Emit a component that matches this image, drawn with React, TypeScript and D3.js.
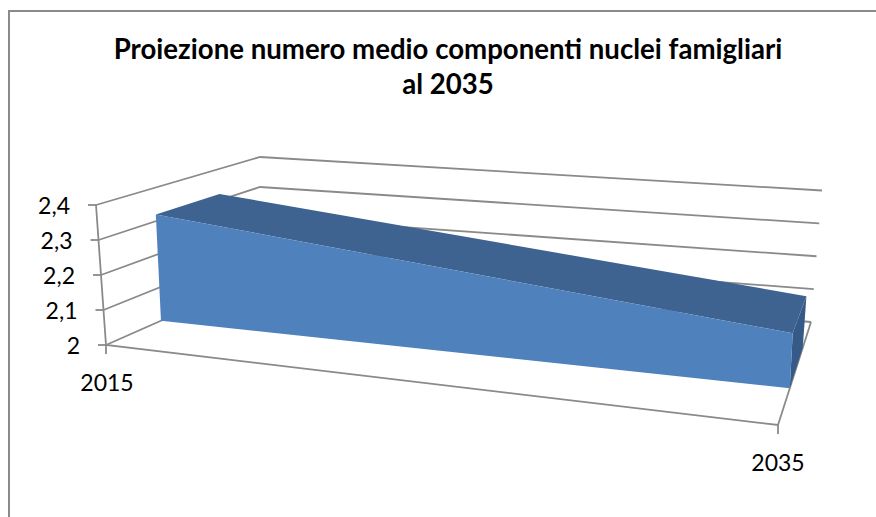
import React from "react";
import * as d3 from "d3";

const titleLines = ["Proiezione numero medio componenti nuclei famigliari", "al 2035"];
const categories = ["2015", "2035"];
const values = [2.32, 2.15];
const valueTicks = [2, 2.1, 2.2, 2.3, 2.4];
const tickLabels = ["2", "2,1", "2,2", "2,3", "2,4"];

type P = [number, number];
// Projection of the chart box: floor corners and the vertical edge at each corner
const floorFL: P = [106, 345], floorFR: P = [778, 425], floorBL: P = [260, 277], floorBR: P = [811, 322];
const upFL: P = [-10, -140], upFR: P = [6, -155], upBL: P = [0, -120], upBR: P = [11, -131.5];

const mix = (a: P, b: P, t: number): P => [a[0] + (b[0] - a[0]) * t, a[1] + (b[1] - a[1]) * t];
const uScale = d3.scalePoint<string>().domain(categories).range([0, 1]);
const vScale = d3.scaleLinear().domain([2, 2.4]).range([0, 1]);
const depthFront = 0.357, depthBack = 0.75;

const project = (u: number, v: number, d: number): P => {
  const floor = mix(mix(floorFL, floorFR, u), mix(floorBL, floorBR, u), d);
  const up = mix(mix(upFL, upFR, u), mix(upBL, upBR, u), d);
  const h = vScale(v);
  return [floor[0] + up[0] * h, floor[1] + up[1] * h];
};

const path = d3.line<P>();
const poly = (pts: P[]) => path(pts)! + "Z";
const U0 = uScale(categories[0])!, U1 = uScale(categories[1])!;
const GRID = "#8a8a8a";
const FONT = "Lato, Carlito, Calibri, sans-serif";

export default function App() {
  const frontFace = poly([
    project(U0, 2, depthFront), project(U0, values[0], depthFront),
    project(U1, values[1], depthFront), project(U1, 2, depthFront)]);
  const topFace = poly([
    project(U0, values[0], depthFront), project(U0, values[0], depthBack),
    project(U1, values[1], depthBack), project(U1, values[1], depthFront)]);
  const sideFace = poly([
    project(U1, values[1], depthFront), project(U1, values[1], depthBack),
    project(U1, 2, depthBack), project(U1, 2, depthFront)]);
  return (
    <svg width={876} height={517} style={{ position: "absolute", left: 0, top: 0, background: "#fff" }}>
      <path d="M9,517V11H876" fill="none" stroke={GRID} strokeWidth={2} />
      {titleLines.map((t, i) => (
        <text key={t} x={448} y={59 + i * 35} textAnchor="middle" fontFamily={FONT} fontWeight={700} fontSize={27.6} fill="#000">{t}</text>
      ))}
      {/* walls */}
      {valueTicks.map((v) => (
        <path key={v} fill="none" stroke={GRID} strokeWidth={1.8}
          d={path([project(0, v, 0), project(0, v, 1), project(1, v, 1)])!} />
      ))}
      {/* floor front + right edges, axis */}
      <path fill="none" stroke={GRID} strokeWidth={1.8}
        d={path([project(1, 2, 1), project(1, 2, 0), project(0, 2, 0), project(0, 2.4, 0)])!} />
      {/* ticks */}
      {valueTicks.map((v, i) => {
        const [x, y] = project(0, v, 0);
        return (
          <g key={v}>
            <line x1={x - 8} x2={x} y1={y} y2={y} stroke={GRID} strokeWidth={1.8} />
            <text x={x - 26} y={y + 9} textAnchor="end" fontFamily={FONT} fontSize={23} fill="#000">{tickLabels[i]}</text>
          </g>
        );
      })}
      {categories.map((c) => {
        const [x, y] = project(uScale(c)!, 2, 0);
        return (
          <g key={c}>
            <line x1={x} x2={x} y1={y} y2={y + 9} stroke={GRID} strokeWidth={1.8} />
            <text x={x} y={y + 46} textAnchor="middle" fontFamily={FONT} fontSize={23} fill="#000"
              dx={c === categories[0] ? 1 : 0}>{c}</text>
          </g>
        );
      })}
      {/* area */}
      <path d={sideFace} fill="#355A87" />
      <path d={topFace} fill="#3F6391" />
      <path d={frontFace} fill="#4F81BD" />
    </svg>
  );
}
